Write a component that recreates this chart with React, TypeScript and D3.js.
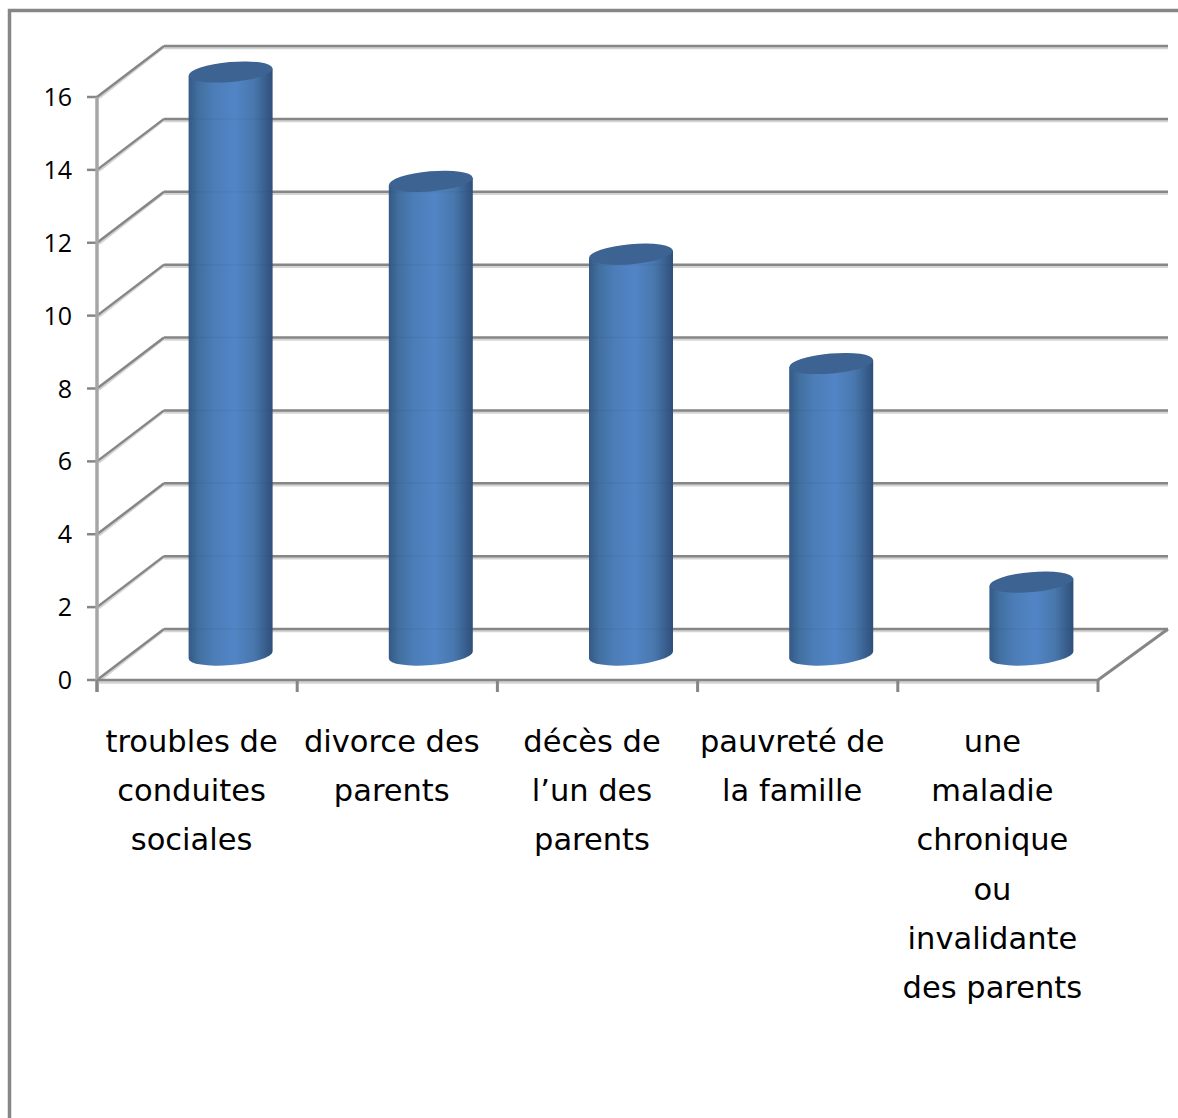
import { useRef, useEffect } from "react";
import * as d3 from "d3";

const categories = [
  "troubles de conduites sociales",
  "divorce des parents",
  "décès de l’un des parents",
  "pauvreté de la famille",
  "une maladie chronique ou invalidante des parents",
];
const categoryLines = [
  ["troubles de", "conduites", "sociales"],
  ["divorce des", "parents"],
  ["décès de", "l’un des", "parents"],
  ["pauvreté de", "la famille"],
  ["une", "maladie", "chronique", "ou", "invalidante", "des parents"],
];
const values = [16, 13, 11, 8, 2];
const yTicks = [0, 2, 4, 6, 8, 10, 12, 14, 16];

const gridColor = "#868686";
const shadowColor = "#d4d4d4";

export default function App() {
  const svgRef = useRef<SVGSVGElement>(null);

  useEffect(() => {
    if (!svgRef.current) return;
    const svg = d3.select(svgRef.current);
    svg.selectAll("*").remove();

    const x = d3.scaleBand().domain(categories).range([97, 1098]);
    const y = d3.scaleLinear().domain([0, 16]).range([680, 97]);
    const depth = { x: 67, y: -51 };
    const barDepth = { x: 34, y: -25 };
    const barW = 84;

    // Bar side shading
    const defs = svg.append("defs");
    const grad = defs
      .append("linearGradient")
      .attr("id", "cyl")
      .attr("x1", 0)
      .attr("x2", 1)
      .attr("y1", 0)
      .attr("y2", 0);
    grad.append("stop").attr("offset", "0%").attr("stop-color", "#345987");
    grad.append("stop").attr("offset", "12%").attr("stop-color", "#41709f");
    grad.append("stop").attr("offset", "30%").attr("stop-color", "#4c7db8");
    grad.append("stop").attr("offset", "55%").attr("stop-color", "#5285c6");
    grad.append("stop").attr("offset", "78%").attr("stop-color", "#4877ad");
    grad.append("stop").attr("offset", "100%").attr("stop-color", "#2f4f7a");

    // Outer chart frame, cut off by the picture on the right and bottom
    svg
      .append("path")
      .attr("d", "M9.5,1118V10.5H1178")
      .attr("fill", "none")
      .attr("stroke", gridColor)
      .attr("stroke-width", 3.5);

    // Floor and wall gridlines
    const xStart = x.range()[0];
    const xEnd = x.range()[1];
    for (const t of yTicks) {
      const py = y(t);
      g_line(xStart + 2, py + 1, xStart + depth.x, py + depth.y + 1, shadowColor, 2.5);
      g_line(xStart, py, xStart + depth.x, py + depth.y, gridColor, 2.5);
      g_line(xStart + depth.x, py + depth.y + 2, 1168, py + depth.y + 2, shadowColor, 2.5);
      g_line(xStart + depth.x, py + depth.y, 1168, py + depth.y, gridColor, 2.5);
      g_line(87, py, xStart, py, gridColor, 2.5);
      svg
        .append("text")
        .attr("x", 72)
        .attr("y", py)
        .attr("dy", "0.36em")
        .attr("text-anchor", "end")
        .attr("font-family", "'Open Sans', sans-serif")
        .attr("font-size", 25)
        .attr("fill", "#000")
        .text(t);
    }
    g_line(xEnd, y(0), xEnd + depth.x + 3, y(0) + depth.y, gridColor, 3);

    // Axis lines
    g_line(xStart, y(16), xStart, 692, "#a6a6a6", 3.5);
    g_line(xStart, y(0) + 2, xEnd, y(0) + 2, shadowColor, 3.5);
    g_line(xStart, y(0), xEnd, y(0), gridColor, 2.5);
    for (const c of categories) {
      g_line(x(c)!, y(0), x(c)!, 692, gridColor, 3);
    }
    g_line(xEnd, y(0), xEnd, 692, gridColor, 3);

    // Cylinders
    const rx = barW / 2;
    const ry = 10;
    const tilt = 0.085;
    categories.forEach((c, i) => {
      const cx = x(c)! + x.bandwidth() / 2 + barDepth.x - 0.5;
      const top = y(values[i]) + barDepth.y;
      const base = y(0) + barDepth.y;
      const side =
        `M${cx - rx},${top + rx * tilt}` +
        `L${cx - rx},${base + rx * tilt}` +
        `A${rx},${ry} -5 0 0 ${cx + rx},${base - rx * tilt}` +
        `L${cx + rx},${top - rx * tilt}Z`;
      svg.append("path").attr("d", side).attr("fill", "url(#cyl)");
      svg
        .append("ellipse")
        .attr("cx", cx)
        .attr("cy", top)
        .attr("rx", rx)
        .attr("ry", ry)
        .attr("transform", `rotate(-5 ${cx} ${top})`)
        .attr("fill", "#3c6391");

      // Wall gridlines show faintly through the bar
      for (const t of yTicks) {
        const py = y(t) + depth.y;
        if (py > top + ry && py < base) {
          svg
            .append("line")
            .attr("x1", cx - rx)
            .attr("x2", cx + rx)
            .attr("y1", py)
            .attr("y2", py)
            .attr("stroke", "#1f3d63")
            .attr("stroke-width", 1.5)
            .attr("opacity", 0.07);
        }
      }
    });

    // Category labels
    categories.forEach((c, i) => {
      const text = svg
        .append("text")
        .attr("text-anchor", "middle")
        .attr("font-family", "'DejaVu Sans', Verdana, sans-serif")
        .attr("font-size", 30.5)
        .attr("fill", "#000");
      categoryLines[i].forEach((line, j) => {
        text
          .append("tspan")
          .attr("x", x(c)! + x.bandwidth() / 2 - 5.5)
          .attr("y", 752 + j * 49.2)
          .text(line);
      });
    });

    function g_line(x1: number, y1: number, x2: number, y2: number, color: string, w: number) {
      svg
        .append("line")
        .attr("x1", x1)
        .attr("y1", y1)
        .attr("x2", x2)
        .attr("y2", y2)
        .attr("stroke", color)
        .attr("stroke-width", w);
    }
  }, []);

  return (
    <svg
      ref={svgRef}
      width={1178}
      height={1118}
      viewBox="0 0 1178 1118"
      style={{ position: "absolute", left: 0, top: 0, background: "#fff" }}
    />
  );
}
